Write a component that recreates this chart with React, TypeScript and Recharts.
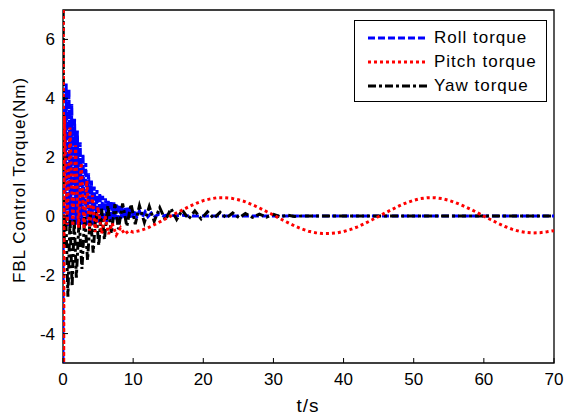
import {
  LineChart,
  Line,
  XAxis,
  YAxis,
  ReferenceArea,
  Legend,
} from "recharts";

const FONT = '"Liberation Sans", Arial, Helvetica, sans-serif';

// t (s), torque (Nm)
const rollPts: [number, number][] = [
  [0, -5], [0.05, 4.3], [0.25, -0.3], [0.45, 4.5], [0.65, -0.35], [0.85, 4.3],
  [1.05, -0.3], [1.25, 3.8], [1.45, -0.35], [1.65, 3.3], [1.85, -0.3], [2.05, 2.9],
  [2.25, -0.35], [2.45, 2.5], [2.65, -0.3], [2.85, 2.1], [3.05, -0.35], [3.25, 1.8],
  [3.45, -0.3], [3.65, 1.45], [3.85, -0.3], [4.05, 1.2], [4.25, -0.3], [4.45, 1.0],
  [4.65, -0.25], [4.85, 0.88], [5.05, -0.25], [5.25, 0.78], [5.45, -0.2], [5.65, 0.68],
  [5.85, -0.2], [6.05, 0.6], [6.25, -0.2], [6.45, 0.55], [6.65, -0.15], [6.85, 0.5],
  [7.05, -0.15], [7.25, 0.46], [7.45, -0.12], [7.65, 0.43], [7.85, -0.1], [8.05, 0.38],
  [8.25, -0.1], [8.45, 0.34], [8.65, -0.08], [8.85, 0.31], [9.05, -0.08], [9.25, 0.28],
  [9.45, -0.06], [9.65, 0.26], [9.85, -0.05], [10.2, 0.2], [10.5, -0.05], [10.9, 0.17],
  [11.3, -0.04], [11.7, 0.14], [12.1, -0.03], [12.6, 0.1], [13.1, -0.02], [13.7, 0.07],
  [14.3, 0], [15, 0.04], [16, 0], [17, 0.02], [18, 0], [70, 0],
];

const pitchPts: [number, number][] = [
  [0.05, 7], [0.1, -5], [0.2, 3.4], [0.6, -0.3], [1.0, 3.0], [1.4, -0.35], [1.8, 2.4],
  [2.2, -0.4], [2.6, 1.8], [3.0, -0.45], [3.4, 1.2], [3.8, -0.5], [4.2, 0.7],
  [4.6, -0.55], [5.0, 0.3], [5.5, -0.6], [6.0, 0.0], [6.5, -0.62], [7.0, -0.25],
  [7.6, -0.65], [8.2, -0.4], [8.8, -0.62], [9.4, -0.5],
  [10, -0.55], [11, -0.5], [12, -0.42], [13, -0.3], [14, -0.18],
  [15, -0.05], [16, 0.08], [17, 0.2], [18, 0.32], [19, 0.43], [20, 0.52], [21, 0.58],
  [22, 0.62], [23, 0.62], [24, 0.6], [25, 0.55], [26, 0.48], [27, 0.38], [28, 0.27],
  [29, 0.15], [30, 0.03], [31, -0.1], [32, -0.22], [33, -0.34], [34, -0.44],
  [35, -0.52], [36, -0.57], [37, -0.6], [38, -0.6], [39, -0.58], [40, -0.53],
  [41, -0.46], [42, -0.37], [43, -0.26], [44, -0.14], [45, -0.02], [46, 0.11],
  [47, 0.23], [48, 0.35], [49, 0.45], [50, 0.53], [51, 0.59], [52, 0.62], [53, 0.62],
  [54, 0.59], [55, 0.53], [56, 0.45], [57, 0.35], [58, 0.24], [59, 0.12], [60, -0.01],
  [61, -0.13], [62, -0.25], [63, -0.36], [64, -0.45], [65, -0.52], [66, -0.56],
  [67, -0.58], [68, -0.57], [69, -0.54], [70, -0.5],
];

const yawPts: [number, number][] = [
  [0.03, 7], [0.1, -1], [0.4, 0], [0.7, -2.75], [1.0, -0.1], [1.3, -2.4], [1.6, -0.1],
  [1.9, -2.1], [2.3, -0.1], [2.7, -1.8], [3.1, 0], [3.5, -1.5], [3.9, 0.05],
  [4.3, -1.25], [4.7, 0.15], [5.1, -1.0], [5.5, 0.25], [5.9, -0.8], [6.4, 0.35],
  [6.9, -0.6], [7.4, 0.4], [7.9, -0.45], [8.5, 0.42], [9.1, -0.35], [9.7, 0.4],
  [10.3, -0.28], [10.9, 0.35], [11.6, -0.22], [12.3, 0.32], [13.0, -0.18], [13.8, 0.28],
  [14.6, -0.15], [15.4, 0.25], [16.2, -0.12], [17.0, 0.2], [17.9, -0.1], [18.8, 0.17],
  [19.7, -0.1], [20.6, 0.14], [21.5, -0.08], [22.4, 0.12], [23.3, -0.07], [24.2, 0.1],
  [25.1, -0.06], [26, 0.08], [27, -0.05], [28, 0.06], [29, -0.04], [30, 0.05],
  [31, -0.03], [32, 0.03], [33, -0.02], [34, 0], [70, 0],
];

const xTicks = [0, 10, 20, 30, 40, 50, 60, 70];
const yTicks = [-4, -2, 0, 2, 4, 6];
const seriesNames = ["Roll torque", "Pitch torque", "Yaw torque"];

const toRows = (pts: [number, number][]) => pts.map(([t, v]) => ({ t, v }));
const rollData = toRows(rollPts);
const pitchData = toRows(pitchPts);
const yawData = toRows(yawPts);

const styles = [
  { color: "#0000ff", dash: "7 3" },
  { color: "#ff0000", dash: "3 3" },
  { color: "#000000", dash: "8 3 3 3" },
];

const W = 565;
const H = 418;
const LW = 3;

function BottomTick({ x, y, payload }: any) {
  return (
    <g>
      <line x1={x} x2={x} y1={y} y2={y - 5} stroke="#000" />
      <text x={x} y={y + 22} textAnchor="middle" fontSize={17} fontFamily={FONT} fill="#000">
        {payload.value}
      </text>
    </g>
  );
}

function TopTick({ x, y }: any) {
  return <line x1={x} x2={x} y1={y} y2={y + 5} stroke="#000" />;
}

function LeftTick({ x, y, payload }: any) {
  return (
    <g>
      <line x1={x} x2={x + 5} y1={y} y2={y} stroke="#000" />
      <text x={x - 8} y={y} dy="0.35em" textAnchor="end" fontSize={17} fontFamily={FONT} fill="#000">
        {payload.value}
      </text>
    </g>
  );
}

function RightTick({ x, y }: any) {
  return <line x1={x} x2={x - 5} y1={y} y2={y} stroke="#000" />;
}

function LegendBox() {
  const rows = [17, 41, 65];
  return (
    <div
      style={{
        width: 193,
        height: 82,
        border: "1px solid #000",
        background: "#fff",
        boxSizing: "border-box",
        position: "relative",
        fontFamily: FONT,
      }}
    >
      {seriesNames.map((name, i) => (
        <div
          key={name}
          style={{
            position: "absolute",
            left: 0,
            top: rows[i] - 12,
            height: 24,
            display: "flex",
            alignItems: "center",
          }}
        >
          <svg width={73} height={24}>
            <line
              x1={13}
              x2={73}
              y1={12}
              y2={12}
              stroke={styles[i].color}
              strokeWidth={LW}
              strokeDasharray={styles[i].dash}
            />
          </svg>
          <span style={{ marginLeft: 6, fontSize: 17, letterSpacing: 1, color: "#000" }}>{name}</span>
        </div>
      ))}
    </div>
  );
}

export default function App() {
  return (
    <div style={{ position: "absolute", left: 0, top: 0, width: W, height: H, background: "#fff" }}>
      <LineChart width={W} height={H} margin={{ top: 10, right: 11, bottom: 0, left: 0 }}>
        <XAxis
          dataKey="t"
          type="number"
          domain={[0, 70]}
          ticks={xTicks}
          interval={0}
          allowDataOverflow
          axisLine={false}
          tickLine={false}
          tickSize={0}
          tickMargin={0}
          height={55}
          tick={<BottomTick />}
          label={() => (
            <text x={308} y={412} textAnchor="middle" fontSize={19} fontFamily={FONT} letterSpacing={1} fill="#000">
              t/s
            </text>
          )}
        />
        <XAxis
          xAxisId="top"
          orientation="top"
          dataKey="t"
          type="number"
          domain={[0, 70]}
          ticks={xTicks}
          interval={0}
          axisLine={false}
          tickLine={false}
          tickSize={0}
          tickMargin={0}
          height={0}
          tick={<TopTick />}
        />
        <YAxis
          type="number"
          domain={[-5, 7]}
          ticks={yTicks}
          interval={0}
          allowDataOverflow
          axisLine={false}
          tickLine={false}
          tickSize={0}
          tickMargin={0}
          width={63}
          tick={<LeftTick />}
          label={() => (
            <text
              x={25}
              y={180}
              transform="rotate(-90, 25, 180)"
              textAnchor="middle"
              fontSize={17}
              letterSpacing={1}
              fontFamily={FONT}
              fill="#000"
            >
              FBL Control Torque(Nm)
            </text>
          )}
        />
        <YAxis
          yAxisId="right"
          orientation="right"
          type="number"
          domain={[-5, 7]}
          ticks={yTicks}
          interval={0}
          axisLine={false}
          tickLine={false}
          tickSize={0}
          tickMargin={0}
          width={0}
          tick={<RightTick />}
        />
        <Line
          data={rollData}
          dataKey="v"
          type="linear"
          stroke={styles[0].color}
          strokeWidth={LW}
          strokeDasharray={styles[0].dash}
          dot={false}
          activeDot={false}
          isAnimationActive={false}
        />
        <Line
          data={yawData}
          dataKey="v"
          type="linear"
          stroke={styles[2].color}
          strokeWidth={LW}
          strokeDasharray={styles[2].dash}
          dot={false}
          activeDot={false}
          isAnimationActive={false}
        />
        <Line
          data={pitchData}
          dataKey="v"
          type="linear"
          stroke={styles[1].color}
          strokeWidth={LW}
          strokeDasharray={styles[1].dash}
          dot={false}
          activeDot={false}
          isAnimationActive={false}
        />
        <ReferenceArea
          x1={0}
          x2={70}
          y1={-5}
          y2={7}
          fill="none"
          fillOpacity={0}
          stroke="#000"
          strokeWidth={1.3}
          ifOverflow="visible"
        />
        <Legend
          layout="horizontal"
          verticalAlign="middle"
          align="center"
          content={<LegendBox />}
          wrapperStyle={{ position: "absolute", left: 354, top: 20, width: 193, height: 82 }}
        />
      </LineChart>
    </div>
  );
}
